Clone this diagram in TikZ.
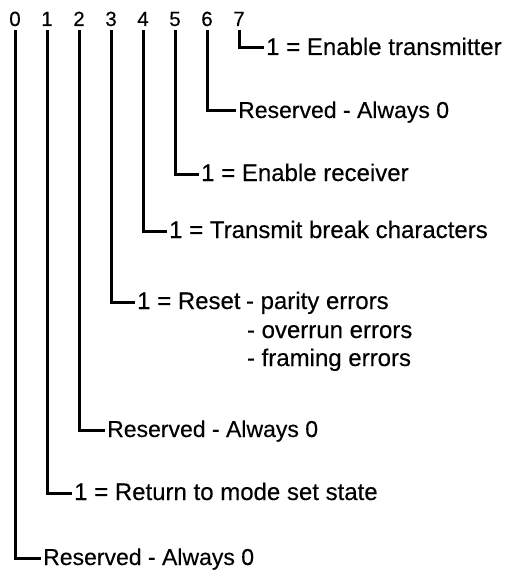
\documentclass[tikz,border=0pt]{standalone}
\usepackage{fontspec}
\setmainfont{Liberation Sans}[FakeBold=0.3]
\usetikzlibrary{calc}
\begin{document}
\begin{tikzpicture}[x=1pt,y=-1pt,
  bitnum/.style={inner sep=0pt, anchor=base, font=\fontsize{20.5}{24}\selectfont},
  lbl/.style={inner sep=0pt, anchor=west, text height=16pt, text depth=2pt, font=\fontsize{23}{28}\selectfont},
  lblone/.style={lbl, font=\fontsize{24}{28}\selectfont},
  sub/.style={inner sep=0pt, anchor=base west, font=\fontsize{24}{28}\selectfont},
  conn/.style={line width=3pt, line cap=butt, line join=miter}]
\useasboundingbox (0,0) rectangle (510,572);
% bit numbers
\foreach \i in {0,...,7} {
  \node[bitnum] (d\i) at ({15+32*\i},26) {\i};
}
% labels
\node[lblone] (l7) at (266,48)  {1 = Enable transmitter};
\node[lbl] (l6) at (238,111) {Reserved - Always 0};
\node[lblone] (l5) at (201,174) {1 = Enable receiver};
\node[lblone] (l4) at (169,231) {1 = Transmit break characters};
\node[lblone] (l3) at (137,302) {1 = Reset};
\node[sub] (l3p) at ($(l3.base east)+(5,0)$) {- parity errors};
\node[sub] (l3o) at ($(l3p.base west)+(1,29)$) {- overrun errors};
\node[sub] (l3f) at ($(l3o.base west)+(0,28)$) {- framing errors};
\node[lbl] (l2) at (107,430) {Reserved - Always 0};
\node[lblone] (l1) at (74,493)  {1 = Return to mode set state};
\node[lbl] (l0) at (43,558)  {Reserved - Always 0};
% connectors
\foreach \i in {0,...,7} {
  \draw[conn] ($(d\i.south)+(0,4)$) |- ([xshift=-2pt]l\i.west);
}
\end{tikzpicture}
\end{document}
